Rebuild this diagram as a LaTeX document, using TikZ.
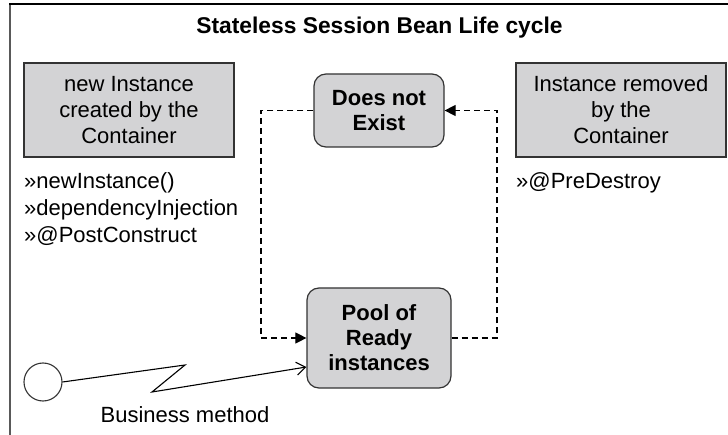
\documentclass[tikz,border=0pt]{standalone}
\usepackage{fontspec}
\setmainfont{Liberation Sans}
\usetikzlibrary{arrows.meta,positioning}
\definecolor{boxgray}{RGB}{211,211,213}
\tikzset{
  infobox/.style={draw=black!80, line width=1.2pt, fill=boxgray, minimum width=210pt,
    minimum height=94pt, align=center, font=\fontsize{22}{26}\selectfont},
  statebox/.style={draw=black!80, line width=1.2pt, fill=boxgray, rounded corners=12pt,
    align=center, font=\fontsize{22}{25}\selectfont\bfseries},
  callback/.style={anchor=base west, inner sep=0pt, font=\fontsize{22}{26}\selectfont},
  trans/.style={line width=1.1pt, dash pattern=on 6pt off 4pt,
    -{Triangle[length=11pt,width=11pt]}},
}
\begin{document}
\begin{tikzpicture}[x=1pt, y=-1pt]
\useasboundingbox (0,0) rectangle (728,435);
% frame
\draw[line width=2pt, black!65] (10,4) -- (10,435);
\draw[line width=1.5pt] (9,4) -- (728,4);
\node[font=\fontsize{22.8}{26}\selectfont\bfseries] (title) at (379.5,28) {Stateless Session Bean Life cycle};

% container boxes
\node[infobox] (created) at (129,110) {new Instance\\created by the\\Container};
\node[infobox] (removed) at (621,110) {Instance removed\\by the\\Container};
\node[callback] (newinst) at (24,189) {»newInstance()};
\node[callback] (depinj) at (24,216) {»dependencyInjection};
\node[callback] (postcon) at (24,243) {»@PostConstruct};
\node[callback] (predes) at (516,189) {»@PreDestroy};

% states
\node[statebox, minimum width=130pt, minimum height=73pt] (noexist) at (379,110.5) {Does not\\Exist};
\node[statebox, minimum width=144pt, minimum height=100pt] (pool) at (379,338) {Pool of\\Ready\\instances};

% transitions
\draw[trans] (noexist.west) -| (261,338) -- (pool.west);
\draw[trans] (pool.east) -| (497,110.5) -- (noexist.east);

% client call
\node[circle, draw=black!80, line width=1.1pt, minimum size=38pt, inner sep=0pt] (client) at (43,382) {};
\draw[line width=1.1pt, -{Straight Barb[length=9pt,width=13pt]}]
  (client.east) -- (185,365) -- (152,392) -- ([yshift=-29pt]pool.west);
\node[font=\fontsize{22}{26}\selectfont] (bizlabel) at (185,415) {Business method};
\end{tikzpicture}
\end{document}
